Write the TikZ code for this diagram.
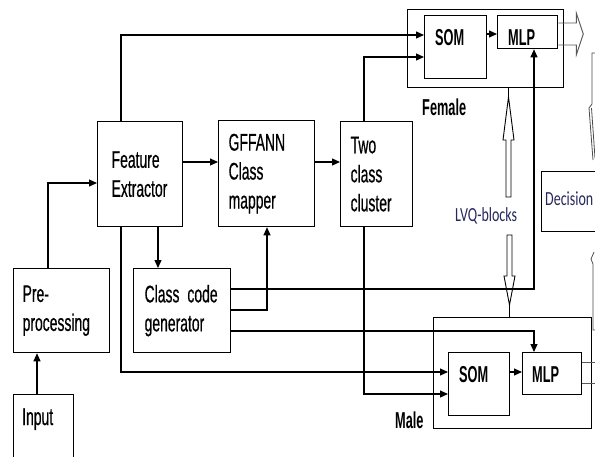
\documentclass[tikz,border=0pt]{standalone}
\usepackage{fontspec}
\setmainfont{Liberation Sans}[FakeStretch=0.58, WordSpace=0.6, FakeBold=0.5]
\newfontfamily\labfont{Liberation Sans}[FakeStretch=0.555, WordSpace=0.6]
\newfontfamily\lvqfont{Carlito}[FakeStretch=0.7]
\usetikzlibrary{arrows.meta,calc}
\definecolor{lvqblue}{RGB}{40,40,95}
\newcommand{\liftup}{\par\vspace*{8pt}}
\begin{document}
\begin{tikzpicture}[x=1pt,y=-1pt,
  blk/.style={draw, line width=1.3pt, inner ysep=0pt, align=left, anchor=north west,
    font=\fontsize{24pt}{29pt}\selectfont},
  frame/.style={draw, line width=1.3pt, inner sep=0pt, anchor=north west},
  conn/.style={line width=1.1pt},
  arr/.style={conn, -{Triangle[length=8pt,width=7pt]}},
  hollow/.style={draw=black!65, line width=0.9pt, line join=miter},
  tag/.style={font=\labfont\bfseries\fontsize{23pt}{26pt}\selectfont, inner sep=0pt, anchor=base west},
  txt/.style={font=\fontsize{24pt}{29pt}\selectfont, inner sep=0pt, anchor=base west},
  lvq/.style={font=\lvqfont\fontsize{20pt}{24pt}\selectfont, text=lvqblue, inner sep=0pt, anchor=base west},
  thinl/.style={draw=black!70, line width=0.8pt}
]
\clip (0,0) rectangle (595,456);
\fill[white] (0,0) rectangle (595,456);

% main blocks
\node[blk, minimum width=85pt, minimum height=105pt, text width=57pt, inner xsep=14pt] (fe) at (97,121) {Feature\\Extractor\liftup};
\node[blk, minimum width=96pt, minimum height=106pt, text width=76pt, inner xsep=10pt] (gff) at (218,120) {GFFANN\\Class\\mapper\liftup};
\node[blk, minimum width=72pt, minimum height=105pt, text width=52pt, inner xsep=10pt] (tcc) at (340,121) {Two\\class\\cluster\liftup};
\node[blk, minimum width=96pt, minimum height=84pt, text width=78pt, inner xsep=9pt] (pre) at (13,268) {Pre-\\processing\liftup};
\node[blk, minimum width=97pt, minimum height=84pt, text width=75pt, inner xsep=11pt] (ccg) at (133,268) {Class code\\generator\liftup};
\node[frame, minimum width=60pt, minimum height=75pt] (inp) at (13,394) {};
\node[txt] (inptxt) at (22,425) {Input};

% female group
\node[frame, minimum width=156pt, minimum height=78pt] (fem) at (407,9) {};
\node[frame, minimum width=62pt, minimum height=63pt] (fsom) at (424,15) {};
\node[frame, minimum width=60pt, minimum height=33pt] (fmlp) at (497,15) {};
\node[tag] (fsomt) at (435,45) {SOM};
\node[tag] (fmlpt) at (508,45) {MLP};
\node[tag] (femt) at (422,115) {Female};

% male group
\node[frame, minimum width=158pt, minimum height=111pt] (mal) at (433,317) {};
\node[frame, minimum width=61pt, minimum height=63pt] (msom) at (448,352) {};
\node[frame, minimum width=59pt, minimum height=42pt] (mmlp) at (522,352) {};
\node[tag] (msomt) at (459,382) {SOM};
\node[tag] (mmlpt) at (532,382) {MLP};
\node[tag] (malt) at (395,428) {Male};

% decision and LVQ
\node[frame, line width=1.1pt, minimum width=79pt, minimum height=60pt] (dec) at (541,171) {};
\node[lvq] (dect) at (545,205) {Decision};
\node[lvq] (lvqt) at (455,221) {LVQ-blocks};

% connectors
\draw[arr] ($(pre.north west)+(35,0)$) |- ($(fe.north west)+(0,62)$);
\draw[arr] ($(inp.north west)+(24,0)$) -- ($(pre.south west)+(24,0)$);
\draw[arr] ($(fe.north east)+(0,41)$) -- ($(gff.north west)+(0,42)$);
\draw[arr] ($(gff.north east)+(0,42)$) -- ($(tcc.north west)+(0,41)$);
\draw[arr] ($(fe.south west)+(61,0)$) -- ($(ccg.north west)+(25,0)$);
\draw[arr] ($(ccg.north east)+(0,42)$) -| ($(gff.south west)+(49,0)$);
\draw[arr] ($(fe.north west)+(24,0)$) |- ($(fsom.north west)+(0,20)$);
\draw[arr] ($(fe.south west)+(24,0)$) |- ($(msom.north west)+(0,20)$);
\draw[arr] ($(tcc.north west)+(24,0)$) |- ($(fsom.north west)+(0,42)$);
\draw[arr] ($(tcc.south west)+(24,0)$) |- ($(msom.north west)+(0,42)$);
\draw[arr] ($(ccg.north east)+(0,21)$) -| ($(fmlp.south west)+(37,0)$);
\draw[arr] ($(ccg.north east)+(0,63)$) -| ($(mmlp.north west)+(12,0)$);
\draw[arr] ($(fsom.north east)+(0,19)$) -- ($(fmlp.north west)+(0,19)$);
\draw[arr] ($(msom.north east)+(0,20)$) -- ($(mmlp.north west)+(0,20)$);

% hollow output arrows
\draw[hollow] ($(fmlp.north east)+(0,8)$) -- ++(18,0) -- ++(0,-10) -- ++(7,21) -- ++(-7,21) -- ++(0,-10) -- ++(-18,0);
\draw[hollow] ($(mmlp.north east)+(0,10)$) -- ++(20,0);
\draw[hollow] ($(mmlp.north east)+(0,31)$) -- ++(20,0);

% LVQ hollow arrows
\draw[conn] ($(fem.south west)+(101.5,0)$) -- ++(0,10);
\draw[hollow, draw=black] (508.5,97) -- (503,140) -- (506,140) -- (506,197) -- (511,197) -- (511,140) -- (514,140) -- cycle;
\draw[hollow, draw=black] (507,235) -- (507,276) -- (504,276) -- (509.5,305) -- (515,276) -- (512,276) -- (512,235) -- cycle;
\draw[conn] (509.5,305) -- ($(mal.north west)+(76.5,0)$);

% partial curved connectors at right edge
\draw[thinl] (595,53) -- (592,53) -- (592,104) -- (589,108) -- (593,160);
\draw[thinl] (591.5,108) -- (595,158);
\draw[thinl] (594,252) -- (591,259) -- (593,264) -- (593,330) -- (595,330);
\end{tikzpicture}
\end{document}
